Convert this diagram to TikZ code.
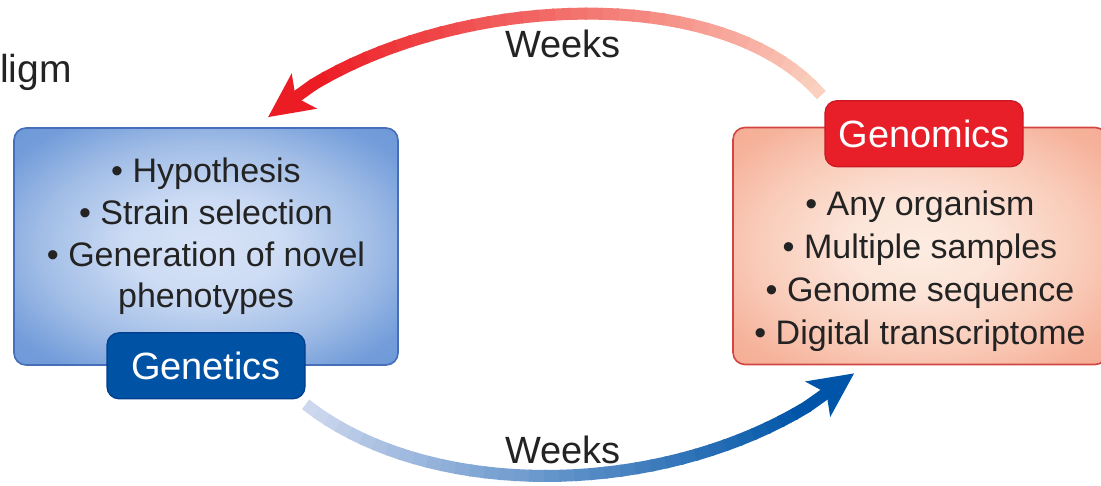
\documentclass[tikz,border=0pt]{standalone}
\usepackage{fontspec}
\setmainfont{Liberation Sans}
\usetikzlibrary{arrows.meta,positioning}

\definecolor{geneBlue}{RGB}{0,82,164}
\definecolor{geneDark}{RGB}{0,62,140}
\definecolor{geneEdge}{RGB}{70,110,185}
\definecolor{genoRed}{RGB}{232,30,40}
\definecolor{genoDark}{RGB}{200,25,35}
\definecolor{genoEdge}{RGB}{210,70,65}
\definecolor{weeksRed}{RGB}{236,28,36}
\definecolor{weeksPale}{RGB}{250,208,190}
\definecolor{weeksBlue}{RGB}{0,85,168}
\definecolor{weeksLight}{RGB}{205,215,238}
\definecolor{textGray}{RGB}{35,35,35}

\pgfdeclareradialshading{geneGlow}{\pgfpointorigin}{%
  color(0bp)=(rgb,255:red,214;green,226;blue,246);
  color(10bp)=(rgb,255:red,205;green,220;blue,244);
  color(22bp)=(rgb,255:red,160;green,188;blue,230);
  color(31bp)=(rgb,255:red,115;green,157;blue,218);
  color(50bp)=(rgb,255:red,92;green,138;blue,206)}
\pgfdeclareradialshading{genoGlow}{\pgfpointorigin}{%
  color(0bp)=(rgb,255:red,253;green,236;blue,226);
  color(10bp)=(rgb,255:red,252;green,228;blue,216);
  color(22bp)=(rgb,255:red,249;green,203;blue,184);
  color(31bp)=(rgb,255:red,246;green,178;blue,155);
  color(50bp)=(rgb,255:red,242;green,158;blue,132)}

\tikzset{
  bigbox/.style={draw, shade, rounded corners=6pt, line width=0.8pt,
    minimum width=192pt, minimum height=118.5pt},
  tag/.style={draw, rounded corners=6pt, line width=0.6pt,
    minimum width=99pt, minimum height=33pt,
    text=white, font=\fontsize{19}{21}\selectfont},
  listtext/.style={align=center, text=textGray,
    font=\fontsize{17}{21.5}\selectfont},
  weeks/.style={text=textGray, font=\fontsize{19}{21}\selectfont},
  band/.style={line width=6pt}
}

\begin{document}
\begin{tikzpicture}[x=0.5pt, y=-0.5pt]
  \useasboundingbox (0,0) rectangle (1101,486);

  % Tail of the title, cut off at the left edge

  \node [weeks, inner sep=0pt, font=\fontsize{19.5}{21}\selectfont, anchor=base east]
    (titleTail) at (72,83) {ligm};

  % Genetics: box, list and tag

  \begin{scope}
    \node [bigbox, draw=geneEdge, shading=geneGlow] (geneBox) at (206,246.5) {};
    \node [listtext, font=\fontsize{17}{20.9}\selectfont] (geneList)
      at ([yshift=5pt]geneBox.center)
      {\textbullet\ Hypothesis\\ \textbullet\ Strain selection\\
       \textbullet\ Generation of novel\\ phenotypes};
    \node [tag, fill=geneBlue, draw=geneDark] (geneTag) at (geneBox.south) {Genetics};
  \end{scope}

  % Genomics: box, list and tag

  \begin{scope}
    \node [bigbox, minimum width=187pt, draw=genoEdge, shading=genoGlow]
      (genoBox) at (920,246) {};
    \node [listtext] (genoList) at ([yshift=-12.5pt]genoBox.center)
      {\textbullet\ Any organism\\ \textbullet\ Multiple samples\\
       \textbullet\ Genome sequence\\ \textbullet\ Digital transcriptome};
    \node [tag, fill=genoRed, draw=genoDark] (genoTag) at ([xshift=2pt, yshift=-3.5pt]genoBox.north) {Genomics};
  \end{scope}

  % End points and bends of the two arrows

  \coordinate (topStart) at ([xshift=-1.5pt, yshift=2.5pt]genoTag.north west);
  \coordinate (topEnd) at ([xshift=31pt, yshift=5pt]geneBox.north);
  \coordinate (topBendA) at (712,-30);
  \coordinate (topBendB) at (405,-2);
  \coordinate (botStart) at ([yshift=-2.5pt]geneTag.south east);
  \coordinate (botEnd) at ([xshift=61pt, yshift=-4pt]genoBox.south west);
  \coordinate (botBendA) at (440,510);
  \coordinate (botBendB) at (705,498);

  % Genomics back to genetics, pale to red

  \foreach \i in {0,...,35}{
    \pgfmathsetmacro{\ta}{0.9*\i/36}
    \pgfmathsetmacro{\tb}{0.9*(\i+1)/36+0.004}
    \pgfmathtruncatemacro{\mix}{100*\i/35}
    \path (topStart) .. controls (topBendA) and (topBendB) .. (topEnd)
      coordinate [pos=\ta] (a) coordinate [pos=\tb] (b);
    \draw [band, weeksRed!\mix!weeksPale] (a) -- (b);
  }
  \path (topStart) .. controls (topBendA) and (topBendB) .. (topEnd)
    coordinate [pos=0.9] (topHead);
  \draw [band, weeksRed, -{Stealth[length=22pt, width=21pt, inset=5pt]}] (topHead) -- (topEnd);
  \node [weeks, anchor=base] (topWeeks) at (563,58) {Weeks};

  % Genetics on to genomics, light to dark blue

  \foreach \i in {0,...,35}{
    \pgfmathsetmacro{\ta}{0.9*\i/36}
    \pgfmathsetmacro{\tb}{0.9*(\i+1)/36+0.004}
    \pgfmathtruncatemacro{\mix}{100*\i/35}
    \path (botStart) .. controls (botBendA) and (botBendB) .. (botEnd)
      coordinate [pos=\ta] (a) coordinate [pos=\tb] (b);
    \draw [band, weeksBlue!\mix!weeksLight] (a) -- (b);
  }
  \path (botStart) .. controls (botBendA) and (botBendB) .. (botEnd)
    coordinate [pos=0.9] (botHead);
  \draw [band, weeksBlue, -{Stealth[length=22pt, width=21pt, inset=5pt]}] (botHead) -- (botEnd);
  \node [weeks, anchor=base] (botWeeks) at (563,463) {Weeks};
\end{tikzpicture}
\end{document}
